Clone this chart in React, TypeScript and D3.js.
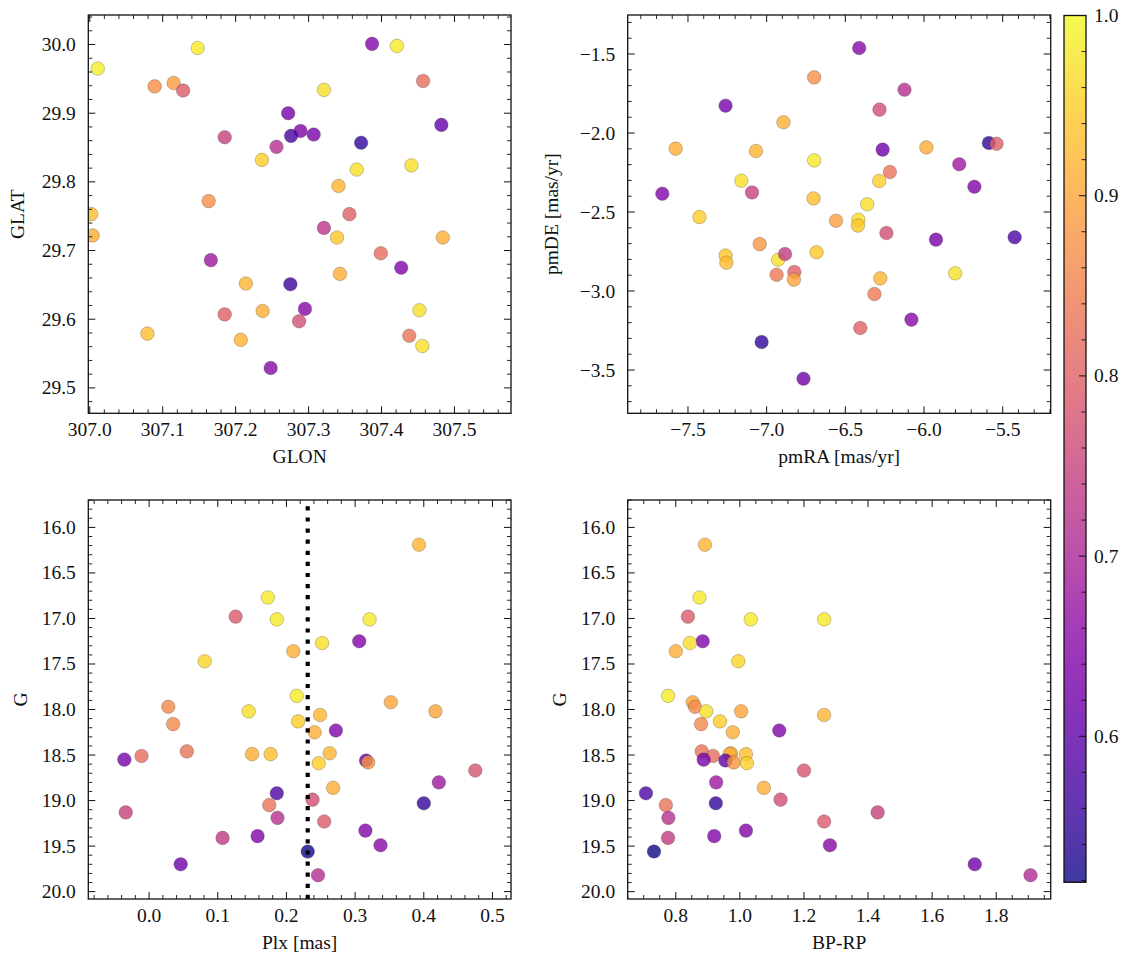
import React from "react";
import * as d3 from "d3";

// ---------- Data ----------
// Panel 1: sky positions
const skyGlon = [307.148, 307.011, 307.089, 307.115, 307.128, 307.387, 307.421, 307.457, 307.321, 307.272, 307.185, 307.289, 307.276, 307.307, 307.256, 307.372, 307.482, 307.236, 307.366, 307.441, 307.341, 307.163, 307.002, 307.004, 307.356, 307.321, 307.339, 307.484, 307.399, 307.166, 307.427, 307.343, 307.214, 307.275, 307.452, 307.185, 307.237, 307.295, 307.287, 307.079, 307.207, 307.438, 307.456, 307.248];
const skyGlat = [29.995, 29.965, 29.939, 29.944, 29.933, 30.001, 29.998, 29.947, 29.934, 29.900, 29.865, 29.874, 29.867, 29.869, 29.851, 29.857, 29.883, 29.832, 29.818, 29.824, 29.794, 29.772, 29.753, 29.722, 29.753, 29.733, 29.719, 29.719, 29.696, 29.686, 29.675, 29.666, 29.652, 29.651, 29.613, 29.607, 29.612, 29.615, 29.597, 29.579, 29.570, 29.576, 29.561, 29.529];
const skyProb = [0.98, 0.99, 0.87, 0.89, 0.79, 0.64, 0.98, 0.82, 0.97, 0.63, 0.75, 0.64, 0.57, 0.63, 0.72, 0.55, 0.61, 0.95, 0.97, 0.97, 0.92, 0.87, 0.93, 0.91, 0.80, 0.73, 0.94, 0.91, 0.82, 0.68, 0.64, 0.91, 0.92, 0.56, 0.97, 0.80, 0.91, 0.65, 0.77, 0.93, 0.92, 0.83, 0.97, 0.65];

// Panel 2: proper motions
const pmRA = [-6.412, -6.698, -6.124, -7.261, -6.283, -6.893, -7.578, -7.068, -6.263, -5.985, -5.588, -5.539, -6.698, -5.776, -6.217, -7.161, -6.285, -7.663, -7.093, -5.680, -6.702, -6.361, -7.427, -6.559, -6.417, -6.420, -6.239, -5.924, -5.424, -7.044, -7.261, -7.256, -6.927, -6.883, -6.683, -6.937, -6.824, -6.827, -6.278, -5.802, -6.315, -6.080, -6.405, -7.032, -6.766];
const pmDE = [-1.462, -1.648, -1.726, -1.827, -1.852, -1.932, -2.099, -2.114, -2.105, -2.091, -2.063, -2.068, -2.173, -2.198, -2.247, -2.302, -2.304, -2.384, -2.376, -2.340, -2.414, -2.451, -2.532, -2.555, -2.549, -2.586, -2.633, -2.675, -2.660, -2.703, -2.776, -2.821, -2.802, -2.766, -2.755, -2.897, -2.880, -2.928, -2.920, -2.888, -3.019, -3.181, -3.234, -3.323, -3.555];
const pmProb = [0.65, 0.87, 0.72, 0.63, 0.77, 0.91, 0.91, 0.92, 0.62, 0.91, 0.55, 0.80, 0.98, 0.68, 0.83, 0.97, 0.95, 0.64, 0.75, 0.64, 0.93, 0.97, 0.95, 0.89, 0.97, 0.94, 0.77, 0.63, 0.58, 0.88, 0.94, 0.93, 0.97, 0.74, 0.94, 0.84, 0.80, 0.90, 0.92, 0.97, 0.84, 0.65, 0.80, 0.55, 0.62];

// Panels 3 & 4: photometry / parallax
const gMag = [16.19, 16.77, 16.98, 17.01, 17.01, 17.25, 17.27, 17.36, 17.47, 17.85, 17.92, 17.97, 18.02, 18.02, 18.06, 18.13, 18.16, 18.23, 18.25, 18.46, 18.48, 18.49, 18.49, 18.51, 18.55, 18.56, 18.58, 18.59, 18.67, 18.80, 18.86, 18.92, 18.99, 19.03, 19.05, 19.13, 19.19, 19.23, 19.33, 19.39, 19.41, 19.49, 19.56, 19.70, 19.82];
const plx = [0.393, 0.173, 0.126, 0.186, 0.321, 0.306, 0.252, 0.210, 0.081, 0.215, 0.352, 0.028, 0.145, 0.417, 0.249, 0.217, 0.035, 0.272, 0.241, 0.055, 0.263, 0.150, 0.177, -0.011, -0.036, 0.316, 0.319, 0.247, 0.475, 0.422, 0.268, 0.186, 0.238, 0.400, 0.175, -0.034, 0.187, 0.255, 0.315, 0.158, 0.107, 0.337, 0.231, 0.046, 0.246];
const bpRp = [0.891, 0.874, 0.838, 1.034, 1.263, 0.884, 0.844, 0.800, 0.995, 0.776, 0.853, 0.860, 0.895, 1.004, 1.263, 0.938, 0.879, 1.123, 0.978, 0.881, 0.972, 0.968, 1.019, 0.916, 0.887, 0.955, 0.981, 1.022, 1.200, 0.926, 1.075, 0.707, 1.127, 0.925, 0.769, 1.430, 0.777, 1.263, 1.019, 0.920, 0.776, 1.281, 0.732, 1.733, 1.907];
const photProb = [0.92, 0.98, 0.79, 0.98, 0.98, 0.64, 0.97, 0.91, 0.96, 0.98, 0.90, 0.86, 0.97, 0.90, 0.92, 0.95, 0.86, 0.64, 0.91, 0.83, 0.92, 0.91, 0.93, 0.82, 0.63, 0.60, 0.88, 0.95, 0.78, 0.68, 0.91, 0.58, 0.77, 0.55, 0.83, 0.75, 0.72, 0.79, 0.64, 0.64, 0.74, 0.65, 0.52, 0.62, 0.71];

const plxMean = 0.231;

// Tick labels
const glonTicks = [307.0, 307.1, 307.2, 307.3, 307.4, 307.5];
const glatTicks = [29.5, 29.6, 29.7, 29.8, 29.9, 30.0];
const pmRATicks = [-7.5, -7.0, -6.5, -6.0, -5.5];
const pmDETicks = [-3.5, -3.0, -2.5, -2.0, -1.5];
const plxTicks = [0.0, 0.1, 0.2, 0.3, 0.4, 0.5];
const colorTicks = [0.8, 1.0, 1.2, 1.4, 1.6, 1.8];
const gTicks = [16.0, 16.5, 17.0, 17.5, 18.0, 18.5, 19.0, 19.5, 20.0];
const cbarTicks = [0.6, 0.7, 0.8, 0.9, 1.0];

const vMin = 0.519;
const vMax = 1.0;

// ---------- Layout ----------
const W = 1133;
const H = 965;
const FONT = "Liberation Serif, DejaVu Serif, serif";
const FS = 19.5;
const MAJ = 7;
const MIN = 4;

type PanelSpec = {
  left: number; right: number; top: number; bottom: number;
  xDom: [number, number]; yDom: [number, number]; yInvert: boolean;
  xTicks: number[]; yTicks: number[]; xMinor: number; yMinor: number;
  xLabel: string; yLabel: string; yLabelX: number;
  xs: number[]; ys: number[]; ps: number[];
  vline?: number;
};

const colorScale = (p: number) => d3.interpolatePlasma((p - vMin) / (vMax - vMin));

const fmt = (v: number) => {
  const s = Math.abs(v).toFixed(1);
  return v < -1e-9 ? "\u2212" + s : s;
};

function minorTicks(dom: [number, number], step: number, majors: number[]) {
  const lo = Math.min(dom[0], dom[1]);
  const hi = Math.max(dom[0], dom[1]);
  const out: number[] = [];
  const start = Math.ceil(lo / step - 1e-6);
  const end = Math.floor(hi / step + 1e-6);
  for (let i = start; i <= end; i++) {
    const v = +(i * step).toFixed(6);
    if (majors.some((m) => Math.abs(m - v) < step / 10)) continue;
    out.push(v);
  }
  return out;
}

const textStyle: React.CSSProperties = { fontFamily: FONT, fontSize: FS, fill: "#111" };

function Panel({ s, id }: { s: PanelSpec; id: string }) {
  const x = d3.scaleLinear().domain(s.xDom).range([s.left, s.right]);
  const y = d3
    .scaleLinear()
    .domain(s.yDom)
    .range(s.yInvert ? [s.top, s.bottom] : [s.bottom, s.top]);
  const xMinors = minorTicks(s.xDom, s.xMinor, s.xTicks);
  const yMinors = minorTicks(s.yDom, s.yMinor, s.yTicks);
  const tickStroke = "#111";
  const lines: React.ReactElement[] = [];
  s.xTicks.forEach((t, i) => {
    const px = x(t);
    lines.push(<line key={`xb${i}`} x1={px} x2={px} y1={s.bottom} y2={s.bottom - MAJ} stroke={tickStroke} strokeWidth={1} />);
    lines.push(<line key={`xt${i}`} x1={px} x2={px} y1={s.top} y2={s.top + MAJ} stroke={tickStroke} strokeWidth={1} />);
  });
  xMinors.forEach((t, i) => {
    const px = x(t);
    lines.push(<line key={`xbm${i}`} x1={px} x2={px} y1={s.bottom} y2={s.bottom - MIN} stroke={tickStroke} strokeWidth={0.9} />);
    lines.push(<line key={`xtm${i}`} x1={px} x2={px} y1={s.top} y2={s.top + MIN} stroke={tickStroke} strokeWidth={0.9} />);
  });
  s.yTicks.forEach((t, i) => {
    const py = y(t);
    lines.push(<line key={`yl${i}`} x1={s.left} x2={s.left + MAJ} y1={py} y2={py} stroke={tickStroke} strokeWidth={1} />);
    lines.push(<line key={`yr${i}`} x1={s.right} x2={s.right - MAJ} y1={py} y2={py} stroke={tickStroke} strokeWidth={1} />);
  });
  yMinors.forEach((t, i) => {
    const py = y(t);
    lines.push(<line key={`ylm${i}`} x1={s.left} x2={s.left + MIN} y1={py} y2={py} stroke={tickStroke} strokeWidth={0.9} />);
    lines.push(<line key={`yrm${i}`} x1={s.right} x2={s.right - MIN} y1={py} y2={py} stroke={tickStroke} strokeWidth={0.9} />);
  });
  const cx = (s.left + s.right) / 2;
  const cy = (s.top + s.bottom) / 2;
  return (
    <g>
      <defs>
        <clipPath id={`clip-${id}`}>
          <rect x={s.left} y={s.top} width={s.right - s.left} height={s.bottom - s.top} />
        </clipPath>
      </defs>
      <g clipPath={`url(#clip-${id})`}>
        {s.xs.map((xv, i) => (
          <circle
            key={i}
            cx={x(xv)}
            cy={y(s.ys[i])}
            r={6.8}
            fill={colorScale(s.ps[i])}
            fillOpacity={0.8}
            stroke="#3a3a3a"
            strokeOpacity={0.55}
            strokeWidth={0.5}
          />
        ))}
        {s.vline !== undefined && (
          <line
            x1={x(s.vline)}
            x2={x(s.vline)}
            y1={s.bottom}
            y2={s.top}
            stroke="#000"
            strokeWidth={4.2}
            strokeDasharray="4.2 6.9"
          />
        )}
      </g>
      {lines}
      <rect x={s.left} y={s.top} width={s.right - s.left} height={s.bottom - s.top} fill="none" stroke="#111" strokeWidth={1.3} />
      {s.xTicks.map((t, i) => (
        <text key={`xl${i}`} x={x(t)} y={s.bottom + 23} textAnchor="middle" style={textStyle}>
          {fmt(t)}
        </text>
      ))}
      {s.yTicks.map((t, i) => (
        <text key={`yl${i}`} x={s.left - 12.5} y={y(t) + 6.5} textAnchor="end" style={textStyle}>
          {fmt(t)}
        </text>
      ))}
      <text x={cx} y={s.bottom + 50} textAnchor="middle" style={textStyle}>
        {s.xLabel}
      </text>
      <text
        transform={`translate(${s.yLabelX},${cy}) rotate(-90)`}
        textAnchor="middle"
        style={textStyle}
      >
        {s.yLabel}
      </text>
    </g>
  );
}

function Colorbar() {
  const left = 1064;
  const right = 1086;
  const top = 15.5;
  const bottom = 882.3;
  const y = d3.scaleLinear().domain([vMin, vMax]).range([bottom, top]);
  const stops = d3.range(0, 1.0001, 0.02);
  const minors = minorTicks([vMin, vMax], 0.02, cbarTicks);
  return (
    <g>
      <defs>
        <linearGradient id="cbar" x1="0" y1="1" x2="0" y2="0">
          {stops.map((t, i) => (
            <stop key={i} offset={t} stopColor={d3.interpolatePlasma(t)} stopOpacity={0.8} />
          ))}
        </linearGradient>
      </defs>
      <rect x={left} y={top} width={right - left} height={bottom - top} fill="url(#cbar)" />
      {minors.map((t, i) => (
        <line key={`m${i}`} x1={right} x2={right - 4.5} y1={y(t)} y2={y(t)} stroke="#111" strokeWidth={0.9} />
      ))}
      {cbarTicks.map((t, i) => (
        <g key={`t${i}`}>
          <line x1={right} x2={right - MAJ} y1={y(t)} y2={y(t)} stroke="#111" strokeWidth={1} />
          <text x={1094} y={y(t) + 6.5} style={textStyle}>
            {fmt(t)}
          </text>
        </g>
      ))}
      <rect x={left} y={top} width={right - left} height={bottom - top} fill="none" stroke="#111" strokeWidth={1.3} />
    </g>
  );
}

export default function App() {
  const panels: PanelSpec[] = [
    {
      left: 88.3, right: 511, top: 15, bottom: 413.3,
      xDom: [306.998, 307.5775], yDom: [29.463, 30.043], yInvert: false,
      xTicks: glonTicks, yTicks: glatTicks, xMinor: 0.02, yMinor: 0.02,
      xLabel: "GLON", yLabel: "GLAT", yLabelX: 24,
      xs: skyGlon, ys: skyGlat, ps: skyProb,
    },
    {
      left: 627.7, right: 1050.7, top: 15, bottom: 413.3,
      xDom: [-7.883, -5.195], yDom: [-3.774, -1.253], yInvert: false,
      xTicks: pmRATicks, yTicks: pmDETicks, xMinor: 0.1, yMinor: 0.1,
      xLabel: "pmRA [mas/yr]", yLabel: "pmDE [mas/yr]", yLabelX: 558,
      xs: pmRA, ys: pmDE, ps: pmProb,
    },
    {
      left: 88.3, right: 511, top: 500, bottom: 899,
      xDom: [-0.0885, 0.527], yDom: [15.699, 20.081], yInvert: true,
      xTicks: plxTicks, yTicks: gTicks, xMinor: 0.02, yMinor: 0.1,
      xLabel: "Plx [mas]", yLabel: "G", yLabelX: 27,
      xs: plx, ys: gMag, ps: photProb, vline: plxMean,
    },
    {
      left: 627.7, right: 1050.7, top: 500, bottom: 899,
      xDom: [0.65, 1.97], yDom: [15.699, 20.081], yInvert: true,
      xTicks: colorTicks, yTicks: gTicks, xMinor: 0.05, yMinor: 0.1,
      xLabel: "BP-RP", yLabel: "G", yLabelX: 566,
      xs: bpRp, ys: gMag, ps: photProb,
    },
  ];
  return (
    <svg
      width={W}
      height={H}
      viewBox={`0 0 ${W} ${H}`}
      style={{ position: "absolute", left: 0, top: 0, display: "block", background: "#fff" }}
    >
      <rect x={0} y={0} width={W} height={H} fill="#fff" />
      {panels.map((p, i) => (
        <Panel key={i} s={p} id={`p${i}`} />
      ))}
      <Colorbar />
    </svg>
  );
}
